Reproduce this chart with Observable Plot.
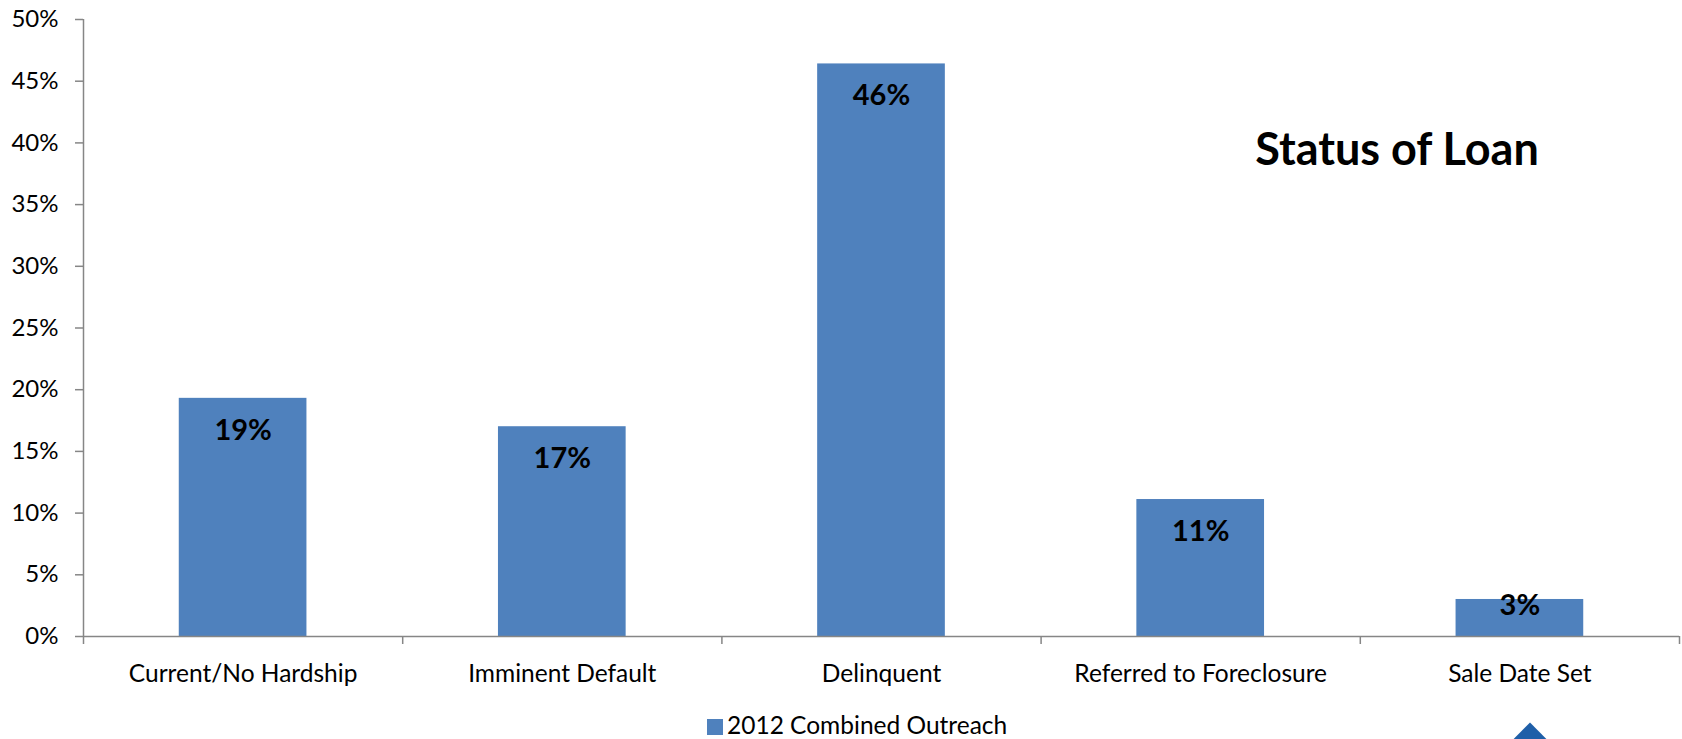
<!DOCTYPE html>
<html>
<head>
<meta charset="utf-8">
<script src="https://cdn.jsdelivr.net/npm/d3@7"></script>
<script src="https://cdn.jsdelivr.net/npm/@observablehq/plot@0.6"></script>
<style>
  html, body { margin: 0; padding: 0; background: #fff; overflow: hidden; }
  body { width: 1682px; height: 739px; position: relative; font-family: Lato, "Open Sans", sans-serif; }
  #chart { position: absolute; left: 0; top: 0; }
  #title { position: absolute; left: 1397px; top: 126px; transform: translateX(-50%);
           font: bold 45px Lato, sans-serif; line-height: 45px; color: #000; white-space: nowrap; }
  #legend { position: absolute; left: 0; top: 706px; width: 1682px; height: 33px; }
  #legend .sw { position: absolute; left: 707px; top: 13px; width: 16px; height: 16px; background: #4F81BD; }
  #legend .lb { position: absolute; left: 727px; top: 4px; font: 24.5px Lato, sans-serif; line-height: 30px; color: #000; white-space: nowrap; }
  #logo { position: absolute; left: 1517px; top: 728px; width: 26px; height: 26px; background: #1F5FA8; transform: rotate(45deg); }
</style>
</head>
<body>
<div id="chart"></div>
<div id="title">Status of Loan</div>
<div id="legend"><div class="sw"></div><div class="lb">2012 Combined Outreach</div></div>
<div id="logo"></div>
<script>
const categories = ["Current/No Hardship", "Imminent Default", "Delinquent", "Referred to Foreclosure", "Sale Date Set"];
const values = [19.3, 17.0, 46.4, 11.1, 3.0];
const seriesName = "2012 Combined Outreach";
const yTicks = [0, 5, 10, 15, 20, 25, 30, 35, 40, 45, 50];

const data = categories.map((c, i) => ({i, category: c, value: values[i], label: Math.round(values[i]) + "%"}));
const axisColor = "#868686";
const barColor = "#4F81BD";

const chart = Plot.plot({
  width: 1682,
  height: 706,
  marginLeft: 83,
  marginRight: 3,
  marginTop: 19,
  marginBottom: 70,
  style: {fontFamily: "Lato, sans-serif", fontSize: "24px", color: "#000", background: "#fff", overflow: "visible"},
  x: {type: "linear", domain: [0, categories.length], label: null},
  y: {domain: [0, 50], label: null},
  marks: [
    Plot.rectY(data, {x1: d => d.i + 0.3, x2: d => d.i + 0.7, y1: 0, y2: "value", fill: barColor}),
    Plot.ruleX([0], {stroke: axisColor, strokeWidth: 1.5}),
    Plot.ruleY([0], {stroke: axisColor, strokeWidth: 1.5}),
    Plot.axisY({ticks: yTicks, tickFormat: d => d + "%", tickSize: 8, tickPadding: 17, stroke: axisColor, strokeWidth: 1.5, fill: "#000", fontSize: 24, label: null}),
    Plot.axisX({ticks: d3.range(0, categories.length + 1), tickSize: 8, tickFormat: () => "", stroke: axisColor, strokeWidth: 1.5, label: null}),
    Plot.axisX({ticks: categories.map((_, i) => i + 0.5), tickSize: 0, tickPadding: 28, tickFormat: d => categories[Math.floor(d)], fill: "#000", fontSize: 24.5, label: null}),
    Plot.text(data.filter(d => d.value >= 5), {x: d => d.i + 0.5, y: "value", text: "label", dy: 32, fontWeight: "bold", fontSize: 29, fill: "#000"}),
    Plot.text(data.filter(d => d.value < 5), {x: d => d.i + 0.5, y: "value", text: "label", dy: 6, fontWeight: "bold", fontSize: 29, fill: "#000"})
  ]
});
document.getElementById("chart").appendChild(chart);
</script>
</body>
</html>
